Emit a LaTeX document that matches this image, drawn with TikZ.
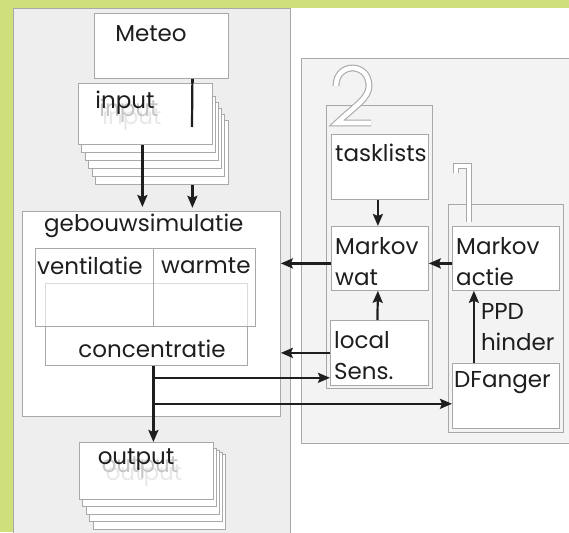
\documentclass[tikz,border=0pt]{standalone}
\usepackage{fontspec}
\setmainfont{Poppins}
\usetikzlibrary{arrows.meta,positioning}
\definecolor{leaf}{HTML}{CFE07A}
\definecolor{panel}{HTML}{EEEEEE}
\definecolor{rpanel}{HTML}{F3F3F3}
\definecolor{frame}{HTML}{A8A8A8}
\definecolor{ink}{HTML}{1E1E1E}
\tikzset{
  box/.style={draw=frame, fill=white, line width=0.8pt, inner sep=0pt, anchor=north west},
  lbl/.style={font=\fontsize{23}{31}\selectfont, inner sep=0pt, text=ink, align=left},
  ghost/.style={lbl, text=gray!45},
  flow/.style={line width=2.2pt, draw=ink, -{Stealth[length=12pt,width=10pt,inset=2pt]}},
  digit/.style={draw=frame, double=white, double distance=4.6pt, line width=1.1pt},
}
\begin{document}
\begin{tikzpicture}[x=1pt,y=-1pt]
\useasboundingbox (0,0) rectangle (569,532);
\fill[leaf] (0,0) rectangle (569,532);
\fill[white] (290,8) rectangle (569,532);
\draw[frame, fill=panel, line width=0.8pt] (13,8) rectangle (290,540);

% right side panel with the two groups
\draw[frame, fill=rpanel, line width=0.8pt] (301,58) rectangle (575,443);
\draw[frame, fill=rpanel, line width=0.8pt] (326,105) rectangle (432,388);
\draw[frame, fill=rpanel, line width=0.8pt] (448,204) rectangle (563,432);
\draw[digit] (336,86) .. controls (336,62) and (369,62) .. (369,86)
  .. controls (369,98) and (355,106) .. (337,123) -- (371,123);
\draw[digit] (456,173) -- (456,166) -- (469,166) -- (469,222);

\node[box, minimum width=97, minimum height=65] (task) at (331,134) {};
\node[box, minimum width=97, minimum height=64] (mw) at (331,226) {};
\node[box, minimum width=98, minimum height=65] (ls) at (330,320) {};
\node[box, minimum width=107, minimum height=64] (ma) at (452,226) {};
\node[box, minimum width=107, minimum height=65] (df) at (452,363) {};
\node[lbl, anchor=west] (tasktxt) at (335,153) {tasklists};
\node[lbl, anchor=west] (mwtxt) at (335,262) {Markov\\wat};
\node[lbl, anchor=west] (lstxt) at (334,356) {local\\Sens.};
\node[lbl, anchor=west] (matxt) at (456,262) {Markov\\actie};
\node[lbl, anchor=west] (dftxt) at (454,383) {DFanger};

% left side: meteo, input, simulation, output
\node[box, minimum width=134, minimum height=65] (meteo) at (94,13) {};
\node[lbl] (meteotxt) at (151,34) {Meteo};
\draw[flow, shorten >=4pt] ([xshift=31pt]meteo.south) -- ++(0,133);
\foreach \i in {5,4,...,1}
  \draw[frame, fill=white, line width=0.8pt] (78+3.5*\i,90+6*\i) rectangle (212+3.2*\i,144+8*\i);
\node[box, minimum width=134, minimum height=61] (inp) at (78,83) {};
\node[ghost, text=gray!18] (inpg2) at (132,119) {input};
\node[ghost] (inpg1) at (129,111) {input};
\node[lbl] (inptxt) at (125,103) {input};
\coordinate (fade) at (192,127);
\draw[line width=2.2pt, draw=ink] ([xshift=31pt]meteo.south) -- (fade);

\node[box, minimum width=258, minimum height=205] (geb) at (22,211) {};
\node[lbl, anchor=west] (gebtxt) at (44,226) {gebouwsimulatie};
\node[box, minimum width=220, minimum height=78] (vw) at (35,248) {};
\draw[frame!40, line width=0.8pt] (45,283) rectangle (247,326);
\draw[frame, line width=0.8pt] (153,248) -- (153,326);
\node[lbl, anchor=west] (venttxt) at (37,266) {ventilatie};
\node[lbl, anchor=west] (warmtxt) at (161,266) {warmte};
\node[box, minimum width=202, minimum height=39] (conc) at (45,326) {};
\node[lbl] (conctxt) at (152,349) {concentratie};

\draw[flow, shorten >=4pt] ([xshift=-3pt]inp.south) -- ([xshift=-3pt]inp.south |- geb.north);

\foreach \i in {4,3,...,1}
  \draw[frame, fill=white, line width=0.8pt] (79+3.5*\i,446+2*\i) rectangle (213+3*\i,499+7.5*\i);
\node[box, minimum width=134, minimum height=57] (out) at (79,442) {};
\node[ghost, text=gray!18] (outg2) at (144,476) {output};
\node[ghost] (outg1) at (140,468) {output};
\node[lbl] (outtxt) at (136,460) {output};

% connectors
\coordinate (br1) at ([xshift=7pt,yshift=-12pt]conc.south);
\coordinate (br2) at ([xshift=7pt,yshift=-38pt]conc.south);
\draw[flow] ([xshift=7pt]conc.south) -- ([xshift=7pt]conc.south |- out.north);
\draw[flow] (br1) -- (br1 -| ls.west);
\draw[flow] (br2) -- (br2 -| df.west);
\draw[flow] (ls.west) -- (ls.west -| geb.east);
\draw[flow] ([yshift=-5pt]mw.west) -- ([yshift=-5pt]mw.west -| geb.east);
\draw[flow] ([yshift=-5pt]ma.west) -- ([yshift=-5pt]ma.west -| mw.east);
\draw[flow] ([xshift=-2pt]task.south) -- ([xshift=-2pt]mw.north);
\draw[flow] ([xshift=-2pt]ls.north) -- ([xshift=-2pt]mw.south);
\draw[flow] ([xshift=-32pt]df.north) -- ([xshift=-32pt]ma.south)
  node[lbl, midway, right=6pt] (ppd) {PPD\\hinder};
\end{tikzpicture}
\end{document}
